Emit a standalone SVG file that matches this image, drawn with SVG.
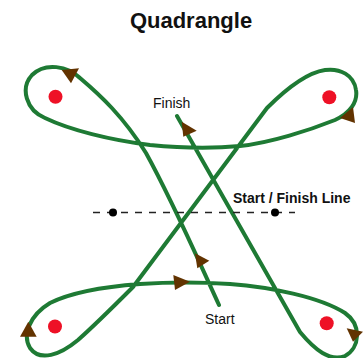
<svg xmlns="http://www.w3.org/2000/svg" width="364" height="358" viewBox="0 0 364 358">
<style>
.track{fill:none;stroke:#1e7a34;stroke-width:4;stroke-linejoin:round;stroke-linecap:round}
.arrow{fill:#623300}
.dot{fill:#ee1126}
.lbl{font-family:"Liberation Sans",Arial,sans-serif;fill:#111}
</style>
<rect width="364" height="358" fill="#fff"/>
<text class="lbl" x="191" y="28" font-size="22" font-weight="bold" text-anchor="middle">Quadrangle</text>
<g id="connectors">
<path class="track" d="M219,305 C196,255 172,200 146,153 C123,116 100,95 80,78 C68,66 45,62 32,75 C20,88 26,110 45,118 C70,130 110,140 150,145 C180,148 210,149 240,146 C270,143 310,130 335,120 C350,113 358,102 356,90 C354,75 340,68 325,70 C305,73 285,90 267,108 L133,287 C115,305 95,325 78,340 C60,355 40,362 30,348 C22,335 30,315 50,303 C70,293 100,287 140,284 C170,282 200,282 230,284 C270,287 320,297 345,313 C362,325 360,348 345,356 C330,362 315,350 300,332 L177,116"/>
<line x1="93" y1="212.5" x2="295" y2="212.5" stroke="#222" stroke-width="1.3" stroke-dasharray="7,7"/>
</g>
<g id="arrows">
<polygon class="arrow" points="61.7,70 79,68.3 71,83.3"/>
<polygon class="arrow" points="181.7,121.7 196.7,130.7 183.3,136.7"/>
<polygon class="arrow" points="353,107 355,123 340,118"/>
<polygon class="arrow" points="28.3,321.7 36.7,336.7 20,336.7"/>
<polygon class="arrow" points="195,253.3 209.3,260.7 197.3,268.3"/>
<polygon class="arrow" points="173.3,275 190,281.7 175,290"/>
<polygon class="arrow" points="346.7,328.3 363,331.7 353,341.7"/>
</g>
<g id="cones">
<circle class="dot" cx="55.5" cy="96.7" r="7"/>
<circle class="dot" cx="329.3" cy="97.3" r="7"/>
<circle class="dot" cx="55" cy="326.5" r="7"/>
<circle class="dot" cx="326.7" cy="323.3" r="7"/>
</g>
<g id="start-finish-line">
<circle cx="113" cy="212.5" r="4" fill="#000"/>
<circle cx="275" cy="212.5" r="4" fill="#000"/>
<text class="lbl" x="233" y="203" font-size="14" font-weight="bold">Start / Finish Line</text>
</g>
<g id="finish">
<text class="lbl" x="153" y="108" font-size="14">Finish</text>
</g>
<g id="start">
<text class="lbl" x="205" y="324" font-size="14">Start</text>
</g>
</svg>
